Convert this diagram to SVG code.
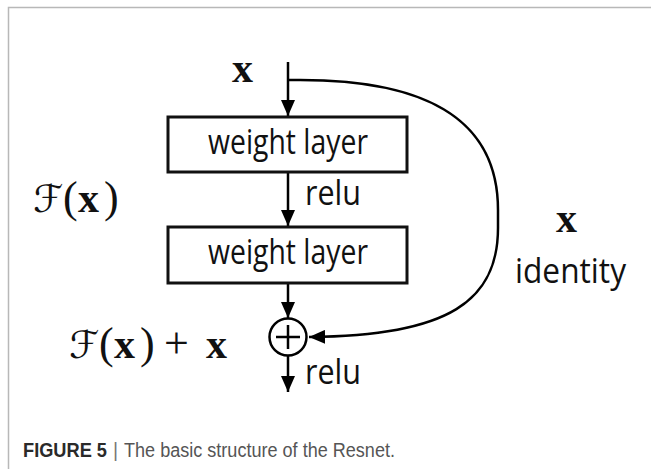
<svg xmlns="http://www.w3.org/2000/svg" width="651" height="469" viewBox="0 0 651 469">
<defs>
<style>
.ln{stroke:#000;stroke-width:2.5;fill:none}
.box{stroke:#111;stroke-width:3;fill:#fff}
.lbl{font-family:"Open Sans","Liberation Sans",sans-serif;font-size:34px;fill:#111}
.mx{font-family:"Liberation Serif","DejaVu Serif",serif;font-weight:bold;font-size:42px;fill:#111}
.mr{font-family:"Liberation Serif","DejaVu Serif",serif;font-weight:normal;font-size:44px;fill:#111}
.cal{font-family:"DejaVu Serif","DejaVu Sans",serif;font-weight:normal;font-size:38px;fill:#111}
</style>
<marker id="ah" viewBox="0 0 16 14" refX="16" refY="7" markerWidth="16" markerHeight="14" markerUnits="userSpaceOnUse" orient="auto">
<path d="M0,0 L16,7 L0,14 Z" fill="#000"/>
</marker>
</defs>
<rect width="651" height="469" fill="#fff"/>
<path d="M8.5,469 V7.5 H651" stroke="#b8b8b8" stroke-width="1.5" fill="none"/>

<g id="connectors">
<line class="ln" x1="288" y1="62" x2="288" y2="116" marker-end="url(#ah)"/>
<line class="ln" x1="288" y1="172" x2="288" y2="226" marker-end="url(#ah)"/>
<line class="ln" x1="288" y1="283" x2="288" y2="318" marker-end="url(#ah)"/>
<line class="ln" x1="288" y1="356" x2="288" y2="392" marker-end="url(#ah)"/>
<path class="ln" d="M288,80 L300,80 C420,80 498,115 498,210 L498,228 C498,300 450,336 309,337" marker-end="url(#ah)"/>
</g>

<g id="input-x"><text class="mx" x="232" y="82">x</text></g>

<g id="weight-layer-1">
<rect class="box" x="168" y="117" width="239" height="55"/>
<text class="lbl" x="288" y="154" text-anchor="middle" textLength="160" lengthAdjust="spacingAndGlyphs">weight layer</text>
</g>
<g id="relu-1"><text class="lbl" x="305" y="205" textLength="56" lengthAdjust="spacingAndGlyphs">relu</text></g>
<g id="weight-layer-2">
<rect class="box" x="168" y="227" width="239" height="56"/>
<text class="lbl" x="288" y="264" text-anchor="middle" textLength="160" lengthAdjust="spacingAndGlyphs">weight layer</text>
</g>
<g id="sum">
<circle cx="288" cy="337" r="18.5" fill="#fff" stroke="#000" stroke-width="2.5"/>
<path d="M276,337 H300 M288,325 V349" stroke="#000" stroke-width="2.5"/>
</g>
<g id="relu-2"><text class="lbl" x="305" y="384" textLength="56" lengthAdjust="spacingAndGlyphs">relu</text></g>

<g id="label-Fx">
<text y="212"><tspan class="cal" x="33">ℱ</tspan><tspan class="mr" x="63">(</tspan><tspan class="mx" x="78">x</tspan><tspan class="mr" x="104">)</tspan></text>
</g>
<g id="label-Fx-plus-x">
<text y="358"><tspan class="cal" x="69">ℱ</tspan><tspan class="mr" x="99">(</tspan><tspan class="mx" x="114">x</tspan><tspan class="mr" x="140">)</tspan><tspan class="mr" x="164">+</tspan><tspan class="mx" x="206">x</tspan></text>
</g>
<g id="identity-label">
<text class="mx" x="556" y="232">x</text>
<text class="lbl" x="515" y="283" textLength="111" lengthAdjust="spacingAndGlyphs">identity</text>
</g>

<g id="caption" font-family="'Liberation Sans',Arial,sans-serif" font-size="19.5">
<text x="23" y="457" font-weight="bold" fill="#2a2a2a" textLength="84" lengthAdjust="spacingAndGlyphs">FIGURE 5</text>
<text x="113" y="457" fill="#777">|</text>
<text x="124" y="457" fill="#555" textLength="271" lengthAdjust="spacingAndGlyphs">The basic structure of the Resnet.</text>
</g>
</svg>
